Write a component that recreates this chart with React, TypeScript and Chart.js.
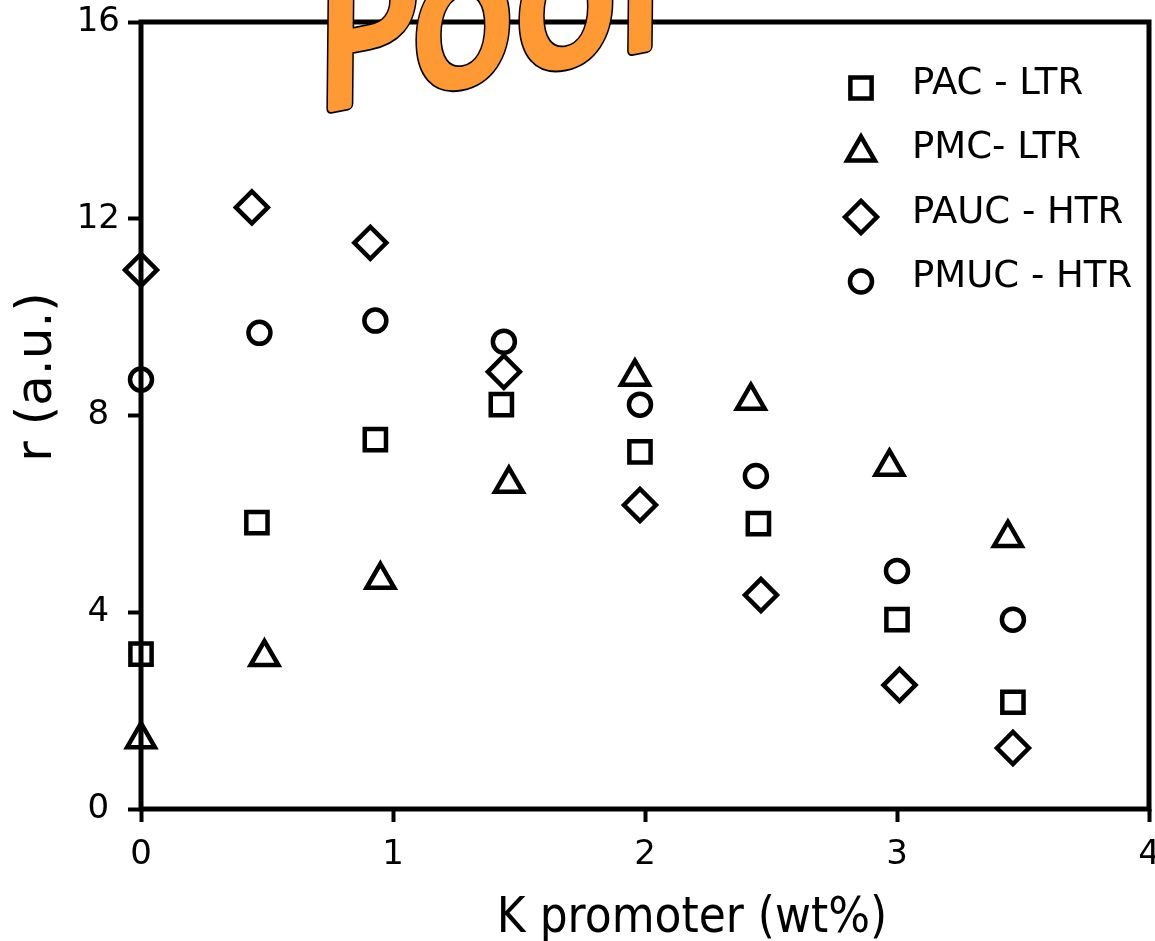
import React, { useEffect, useRef } from 'react';
import { Chart, registerables } from 'chart.js';
import { drawPoint } from 'chart.js/helpers';

Chart.register(...registerables);

const X_TICKS = [0, 1, 2, 3, 4];
const Y_TICKS = [0, 4, 8, 12, 16];

const pacX = [0, 0.46, 0.93, 1.43, 1.98, 2.45, 3.0, 3.46];
const pacY = [3.15, 5.82, 7.51, 8.22, 7.26, 5.8, 3.85, 2.17];
const pmcX = [0, 0.49, 0.95, 1.46, 1.96, 2.42, 2.97, 3.44];
const pmcY = [1.42, 3.09, 4.66, 6.61, 8.79, 8.3, 6.96, 5.51];
const paucX = [0, 0.44, 0.91, 1.44, 1.98, 2.46, 3.01, 3.46];
const paucY = [10.96, 12.23, 11.51, 8.89, 6.18, 4.35, 2.52, 1.24];
const pmucX = [0, 0.47, 0.93, 1.44, 1.98, 2.44, 3.0, 3.46];
const pmucY = [8.73, 9.68, 9.93, 9.5, 8.22, 6.77, 4.84, 3.85];

const SERIES_NAMES = ['PAC - LTR', 'PMC- LTR', 'PAUC - HTR', 'PMUC - HTR'];
const X_TITLE = 'K promoter (wt%)';
const Y_TITLE = 'r (a.u.)';
const STAMP = 'Poor';

const FONT = '"DejaVu Sans", Verdana, sans-serif';

const toPts = (xs: number[], ys: number[]) => xs.map((x, i) => ({ x, y: ys[i] }));

const STYLES = [
  { pointStyle: 'rect', radius: 15 },
  { pointStyle: 'triangle', radius: 16 },
  { pointStyle: 'rectRot', radius: 16 },
  { pointStyle: 'circle', radius: 11 },
];

const framePlugin = {
  id: 'frame',
  beforeDatasetsDraw(chart: any) {
    const { ctx, chartArea: a } = chart;
    ctx.save();
    ctx.strokeStyle = '#000';
    ctx.lineWidth = 5;
    ctx.strokeRect(a.left, a.top, a.right - a.left, a.bottom - a.top);
    ctx.restore();
  },
};

const legendPlugin = {
  id: 'insideLegend',
  afterDraw(chart: any) {
    const { ctx, chartArea: a } = chart;
    const mx = a.right - 288;
    const y0 = a.top + 66;
    const step = 64.5;
    ctx.save();
    chart.data.datasets.forEach((ds: any, i: number) => {
      const y = y0 + i * step;
      ctx.strokeStyle = '#000';
      ctx.fillStyle = 'rgba(0,0,0,0)';
      ctx.lineWidth = ds.pointBorderWidth;
      drawPoint(ctx, { pointStyle: ds.pointStyle, radius: ds.pointRadius, borderWidth: ds.pointBorderWidth, rotation: 0 } as any, mx, y);
      ctx.fillStyle = '#000';
      ctx.font = `37px ${FONT}`;
      ctx.textAlign = 'left';
      ctx.textBaseline = 'middle';
      ctx.fillText(ds.label, mx + 51, y - 4);
    });
    ctx.restore();
  },
};

const titlesPlugin = {
  id: 'axisTitles',
  afterDraw(chart: any) {
    const { ctx } = chart;
    ctx.save();
    ctx.fillStyle = '#000';
    ctx.save();
    ctx.translate(692, 932);
    ctx.scale(0.88, 1);
    ctx.font = `50px ${FONT}`;
    ctx.textAlign = 'center';
    ctx.textBaseline = 'alphabetic';
    ctx.fillText(X_TITLE, 0, 0);
    ctx.restore();
    ctx.save();
    ctx.translate(38, 377);
    ctx.rotate(-Math.PI / 2);
    ctx.font = `50px ${FONT}`;
    ctx.textAlign = 'center';
    ctx.textBaseline = 'middle';
    ctx.fillText(Y_TITLE, 0, 0);
    ctx.restore();
    ctx.restore();
  },
};

const stampPlugin = {
  id: 'stamp',
  afterDraw(chart: any) {
    const { ctx } = chart;
    ctx.save();
    ctx.translate(315, 111);
    ctx.rotate(-0.19);
    ctx.scale(1.06, 1.15);
    ctx.transform(1, 0, -0.22, 1, 0, 0);
    ctx.font = `162px ${FONT}`;
    ctx.textAlign = 'left';
    ctx.textBaseline = 'alphabetic';
    ctx.lineJoin = 'round';
    ctx.lineCap = 'round';
    ctx.strokeStyle = '#000';
    ctx.lineWidth = 10;
    ctx.strokeText(STAMP, 0, 0);
    ctx.strokeStyle = '#FF9933';
    ctx.lineWidth = 7;
    ctx.strokeText(STAMP, 0, 0);
    ctx.fillStyle = '#FF9933';
    ctx.fillText(STAMP, 0, 0);
    ctx.restore();
  },
};

export default function App() {
  const ref = useRef<HTMLCanvasElement | null>(null);

  useEffect(() => {
    if (!ref.current) return;
    const series = [toPts(pacX, pacY), toPts(pmcX, pmcY), toPts(paucX, paucY), toPts(pmucX, pmucY)];
    const chart = new Chart(ref.current, {
      type: 'scatter',
      data: {
        datasets: series.map((data, i) => ({
          label: SERIES_NAMES[i],
          data,
          pointStyle: STYLES[i].pointStyle as any,
          pointRadius: STYLES[i].radius,
          pointHoverRadius: STYLES[i].radius,
          borderWidth: 4.5,
          pointBorderWidth: 4.5,
          borderColor: '#000',
          pointBorderColor: '#000',
          backgroundColor: 'rgba(0,0,0,0)',
          pointBackgroundColor: 'rgba(0,0,0,0)',
          showLine: false,
          clip: false as any,
        })),
      },
      options: {
        animation: false,
        responsive: false,
        devicePixelRatio: 1,
        events: [],
        layout: { autoPadding: false, padding: { top: 22, right: 6, left: 0, bottom: 0 } },
        plugins: {
          legend: { display: false },
          tooltip: { enabled: false },
          title: { display: false },
        },
        scales: {
          x: {
            type: 'linear',
            min: 0,
            max: 4,
            afterBuildTicks: (s: any) => {
              s.ticks = X_TICKS.map((v) => ({ value: v }));
            },
            afterFit: (s: any) => {
              s.height = 132;
              s.paddingLeft = 0;
              s.paddingRight = 0;
            },
            border: { display: false },
            grid: {
              display: true,
              drawOnChartArea: false,
              drawTicks: true,
              tickLength: 13,
              tickWidth: 4,
              tickColor: '#000',
            },
            ticks: {
              autoSkip: false,
              maxRotation: 0,
              padding: 13,
              color: '#000',
              font: { family: FONT, size: 34 },
            },
          },
          y: {
            type: 'linear',
            min: 0,
            max: 16,
            afterBuildTicks: (s: any) => {
              s.ticks = Y_TICKS.map((v) => ({ value: v }));
            },
            afterFit: (s: any) => {
              s.width = 141;
              s.paddingTop = 0;
              s.paddingBottom = 0;
            },
            border: { display: false },
            grid: {
              display: true,
              drawOnChartArea: false,
              drawTicks: true,
              tickLength: 13,
              tickWidth: 4,
              tickColor: '#000',
            },
            ticks: {
              autoSkip: false,
              crossAlign: 'center',
              padding: 8,
              color: '#000',
              font: { family: FONT, size: 34 },
            },
          },
        },
      },
      plugins: [framePlugin, legendPlugin, titlesPlugin, stampPlugin],
    });
    return () => chart.destroy();
  }, []);

  return (
    <div style={{ position: 'absolute', left: 0, top: 0, width: 1155, height: 941, background: '#fff', overflow: 'hidden' }}>
      <canvas ref={ref} width={1155} height={941} style={{ display: 'block' }} />
    </div>
  );
}
